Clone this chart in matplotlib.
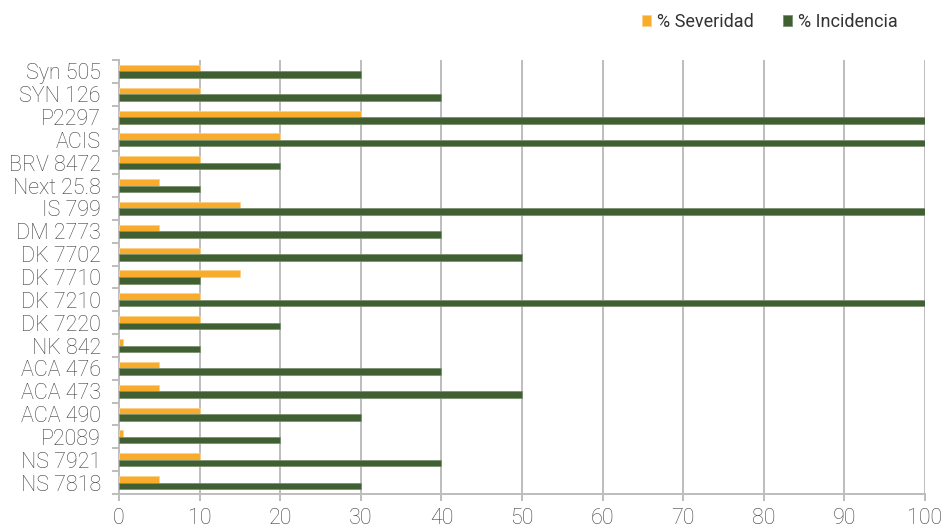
import matplotlib.pyplot as plt
import numpy as np

plt.rcParams['font.family'] = ['Roboto', 'DejaVu Sans']
plt.rcParams['font.weight'] = 'light'

hibridos = ['Syn 505', 'SYN 126', 'P2297', 'ACIS', 'BRV 8472', 'Next 25.8', 'IS 799',
            'DM 2773', 'DK 7702', 'DK 7710', 'DK 7210', 'DK 7220', 'NK 842', 'ACA 476',
            'ACA 473', 'ACA 490', 'P2089', 'NS 7921', 'NS 7818']
severidad = [10, 10, 30, 20, 10, 5, 15, 5, 10, 15, 10, 10, 0.5, 5, 5, 10, 0.5, 10, 5]
incidencia = [30, 40, 100, 100, 20, 10, 100, 40, 50, 10, 100, 20, 10, 40, 50, 30, 20, 40, 30]

naranja = '#F9AC2C'
verde = '#405F32'
gris_txt = '#404040'
gris_lin = '#BDBDBD'

fig = plt.figure(figsize=(9.49, 5.29), dpi=100)
ax = fig.add_axes([119/949, 35/529, 806/949, 434/529])

y = np.arange(len(hibridos))
h = 0.285
ax.barh(y - h/2, severidad, height=h, color=naranja, edgecolor='#FBD08A', linewidth=0.6,
        label='% Severidad', zorder=3)
ax.barh(y + h/2, incidencia, height=h, color=verde, edgecolor='#7A9070', linewidth=0.6,
        label='% Incidencia', zorder=3)

ax.set_xlim(0, 100)
ax.set_ylim(len(hibridos) - 0.5, -0.5)
ax.set_xticks(range(0, 101, 10))
ax.set_yticks(y)
ax.set_yticklabels(hibridos)
ax.set_yticks(np.arange(-0.5, len(hibridos), 1), minor=True)

ax.grid(axis='x', color=gris_lin, linewidth=1.4, zorder=0)
for s in ['top', 'right']:
    ax.spines[s].set_visible(False)
for s in ['left', 'bottom']:
    ax.spines[s].set_color(gris_lin)
    ax.spines[s].set_linewidth(1.4)

ax.tick_params(axis='y', which='major', length=0, labelsize=15.5, labelcolor=gris_txt, pad=13)
ax.tick_params(axis='y', which='minor', length=5, width=1.4, color=gris_lin)
ax.tick_params(axis='x', length=5, width=1.4, color=gris_lin, labelsize=15.5,
               labelcolor=gris_txt, pad=5)

leg = fig.legend(loc='upper right', bbox_to_anchor=(0.963, 1.007), ncol=2, frameon=False,
                 prop={'size': 13, 'weight': 'normal'}, handlelength=0.55, handleheight=0.55,
                 handletextpad=0.3, columnspacing=1.6)
for t in leg.get_texts():
    t.set_color('#333333')

fig.savefig('out.png', dpi=100)
